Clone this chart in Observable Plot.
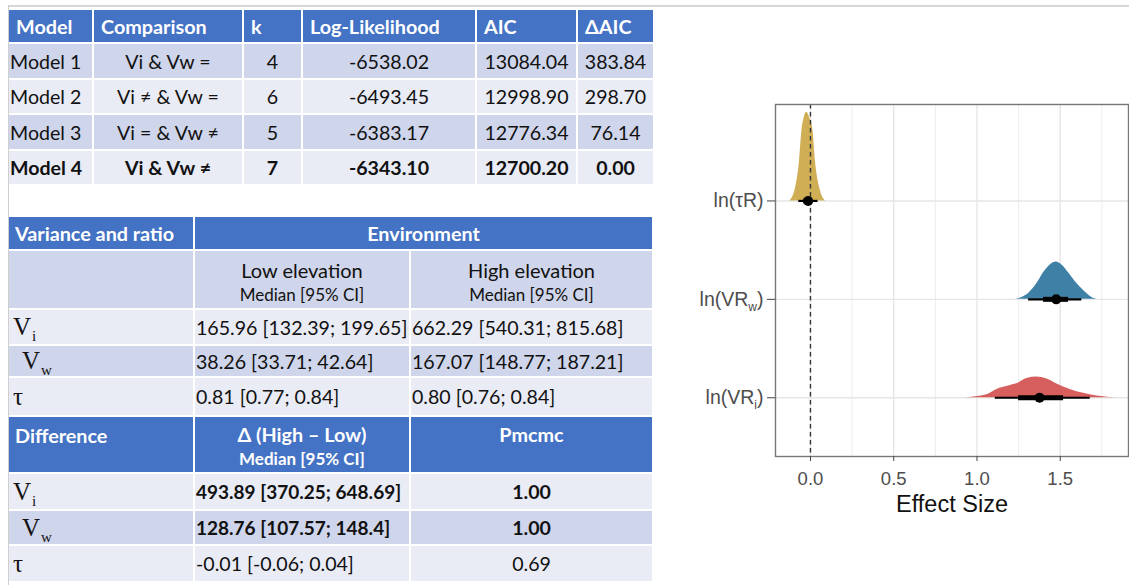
<!DOCTYPE html>
<html><head><meta charset="utf-8">
<script src="https://cdn.jsdelivr.net/npm/d3@7"></script>
<script src="https://cdn.jsdelivr.net/npm/@observablehq/plot@0.6"></script>
<style>
html,body{margin:0;padding:0;background:#fff;}
#page{position:relative;width:1129px;height:587px;overflow:hidden;font-family:Lato,"Open Sans",sans-serif;color:#111;}
.frameTop{position:absolute;left:8px;top:5px;width:1121px;height:1.5px;background:#D6D6D6;}
.frameLeft{position:absolute;left:7.5px;top:5px;width:1px;height:580px;background:#CFCFCF;}
.grid{position:absolute;display:grid;gap:2px;background:#fff;}
.c{display:flex;align-items:center;white-space:nowrap;box-sizing:border-box;}
.h{background:#4472C4;color:#fff;font-weight:bold;}
.dk{background:#CFD5EA;}
.lt{background:#E9EBF5;}
.left{justify-content:flex-start;}
.ctr{justify-content:center;}
.top{align-items:flex-start;flex-direction:column;}
.serif{font-family:"Liberation Serif","DejaVu Serif",serif;font-size:25px;}
.serif .sb{font-size:15px;position:relative;top:6px;margin-left:1px;}
#chart{position:absolute;left:680px;top:90px;}
</style></head>
<body><div id="page">
<div class="frameTop"></div><div class="frameLeft"></div>
<div id="t1" class="grid"></div>
<div id="t2" class="grid"></div>
<div id="chart"></div>
</div>
<script>
// ---------- Table 1 data ----------
const modelHeaders = ["Model","Comparison","k","Log-Likelihood","AIC","ΔAIC"];
const modelNames = ["Model 1","Model 2","Model 3","Model 4"];
const comparisons = ["Vi & Vw =","Vi ≠ & Vw =","Vi = & Vw ≠","Vi & Vw ≠"];
const kValues = ["4","6","5","7"];
const logLik = ["-6538.02","-6493.45","-6383.17","-6343.10"];
const aicValues = ["13084.04","12998.90","12776.34","12700.20"];
const deltaAic = ["383.84","298.70","76.14","0.00"];

// ---------- Table 2/3 data ----------
const paramMain = ["V","V","τ"];
const paramSub = ["i","w",""];
const lowElevation = ["165.96 [132.39; 199.65]","38.26 [33.71; 42.64]","0.81 [0.77; 0.84]"];
const highElevation = ["662.29 [540.31; 815.68]","167.07 [148.77; 187.21]","0.80 [0.76; 0.84]"];
const diffValues = ["493.89 [370.25; 648.69]","128.76 [107.57; 148.4]","-0.01 [-0.06; 0.04]"];
const pmcmcValues = ["1.00","1.00","0.69"];
const diffBold = [true,true,false];

// ---------- Chart data ----------
const yCatMain = ["ln(VR","ln(VR","ln(τR"];
const yCatSub = ["i","w",""];
const yCatPos = [1,2,3];
const slabColors = ["#D65F5E","#3F80A6","#CFAE56"];
const medians = [1.376, 1.476, -0.014];
const thinLo = [1.11, 1.31, -0.07];
const thinHi = [1.68, 1.63, 0.045];
const thickLo = [1.25, 1.40, -0.04];
const thickHi = [1.52, 1.55, 0.012];
const slabX = [
  [0.93,0.98,1.06,1.12,1.19,1.25,1.30,1.36,1.42,1.48,1.56,1.64,1.72,1.78,1.83],
  [1.23,1.27,1.31,1.36,1.40,1.44,1.476,1.51,1.55,1.60,1.66,1.69,1.73],
  [-0.125,-0.114,-0.09,-0.066,-0.05,-0.04,-0.03,-0.024,-0.016,-0.005,0.0138,0.03,0.056,0.08,0.092]
];
const slabH = [
  [0,0.008,0.03,0.085,0.12,0.15,0.195,0.21,0.19,0.14,0.085,0.045,0.017,0.006,0],
  [0,0.02,0.06,0.16,0.27,0.35,0.38,0.35,0.27,0.16,0.06,0.02,0],
  [0,0.02,0.13,0.40,0.735,0.83,0.885,0.90,0.89,0.845,0.735,0.40,0.13,0.02,0]
];
const majorTicks = [0,0.5,1,1.5];
const minorTicks = [0.25,0.75,1.25,1.75];

// ---------- build tables ----------
function cell(parent, cls, html, style){
  const d=document.createElement("div");
  d.className="c "+cls; d.innerHTML=html;
  if(style) Object.assign(d.style, style);
  parent.appendChild(d); return d;
}
const t1=document.getElementById("t1");
Object.assign(t1.style,{left:"9px",top:"10px",gridTemplateColumns:"83px 148px 57px 172px 99px 75px",gridTemplateRows:"32px 34px 33px 34px 33px"});
modelHeaders.forEach(h=>cell(t1,"h left",h,{paddingLeft:"7px",fontSize:"19.8px"}));
modelNames.forEach((m,i)=>{
  const bg = i%2===0?"dk":"lt";
  const fw = i===3?"bold":"normal";
  const st = {fontSize:"19.6px",fontWeight:fw};
  cell(t1,bg+" left",m,Object.assign({paddingLeft:"1px"},st));
  cell(t1,bg+" ctr",comparisons[i],st);
  cell(t1,bg+" ctr",kValues[i],st);
  cell(t1,bg+" ctr",logLik[i],st);
  cell(t1,bg+" ctr",aicValues[i],st);
  cell(t1,bg+" ctr",deltaAic[i],st);
});

const t2=document.getElementById("t2");
Object.assign(t2.style,{left:"9px",top:"217px",gridTemplateColumns:"184px 214px 241px",gridTemplateRows:"32px 57px 34px 30px 37px 55px 35px 33px 35px"});
cell(t2,"h left","Variance and ratio",{paddingLeft:"6px",fontSize:"19.8px"});
cell(t2,"h ctr","Environment",{gridColumn:"span 2",fontSize:"19.8px"});
cell(t2,"dk","",{});
const sub1 = '<div style="font-size:20px;line-height:26px">Low elevation</div><div style="font-size:17px;line-height:24px">Median [95% CI]</div>';
const sub2 = '<div style="font-size:20px;line-height:26px">High elevation</div><div style="font-size:17px;line-height:24px">Median [95% CI]</div>';
cell(t2,"dk top",sub1,{paddingTop:"6px",alignItems:"center"});
cell(t2,"dk top",sub2,{paddingTop:"6px",alignItems:"center"});
function paramLabel(i){ return "<span>"+paramMain[i] + (paramSub[i]?'<span class="sb">'+paramSub[i]+"</span>":"")+"</span>"; }
const padL=["4px","13px","4px"];
[0,1,2].forEach(i=>{
  const bg = i===1?"dk":"lt";
  cell(t2,bg+" left serif",paramLabel(i),{paddingLeft:padL[i]});
  cell(t2,bg+" left",lowElevation[i],{fontSize:"19.6px",paddingLeft:"1px"});
  cell(t2,bg+" left",highElevation[i],{fontSize:"19.6px",paddingLeft:"1px"});
});
cell(t2,"h top","Difference",{paddingLeft:"6px",paddingTop:"5px",fontSize:"19.8px",lineHeight:"26px"});
cell(t2,"h top",'<div style="font-size:19.8px;line-height:26px">Δ (High – Low)</div><div style="font-size:17px;line-height:24px">Median [95% CI]</div>',{paddingTop:"4px",alignItems:"center"});
cell(t2,"h top","Pmcmc",{paddingTop:"4px",alignItems:"center",fontSize:"19.8px",lineHeight:"26px"});
[0,1,2].forEach(i=>{
  const bg = i===1?"dk":"lt";
  const fw = diffBold[i]?"bold":"normal";
  cell(t2,bg+" left serif",paramLabel(i),{paddingLeft:padL[i]});
  cell(t2,bg+" left",diffValues[i],{fontSize:diffBold[i]?"19px":"19.6px",paddingLeft:"1px",fontWeight:fw});
  cell(t2,bg+" ctr",pmcmcValues[i],{fontSize:"19.6px",fontWeight:fw});
});

// ---------- chart ----------
const slabMarks = slabX.map((xs,i)=>{
  const rows = xs.map((x,j)=>({x, y1: yCatPos[i], y2: yCatPos[i]+slabH[i][j]}));
  return Plot.areaY(rows,{x:"x",y1:"y1",y2:"y2",fill:slabColors[i],curve:"monotone-x"});
});
const idx = d3.range(yCatPos.length);
const fmtY = v => { const i = yCatPos.indexOf(v); return yCatMain[i]+yCatSub[i]+")"; };
const chart = Plot.plot({
  width:449, height:440,
  marginLeft:95, marginRight:1, marginTop:14, marginBottom:74,
  x:{domain:[-0.21,1.91]},
  y:{domain:[0.403,3.98]},
  style:{fontFamily:"'Liberation Sans', Arial, sans-serif",fontSize:"18px",color:"#4D4D4D",background:"transparent",overflow:"visible"},
  marks:[
    Plot.ruleX(minorTicks,{stroke:"#EBEBEB",strokeWidth:0.9}),
    Plot.ruleX(majorTicks,{stroke:"#E6E6E6",strokeWidth:1.4}),
    Plot.ruleY(yCatPos,{stroke:"#E6E6E6",strokeWidth:1.4}),
    ...slabMarks,
    Plot.ruleX([0],{stroke:"#333",strokeWidth:1.4,strokeDasharray:"4.5,3.5"}),
    Plot.ruleY(idx,{y:i=>yCatPos[i],x1:i=>thinLo[i],x2:i=>thinHi[i],stroke:"#000",strokeWidth:2.2}),
    Plot.ruleY(idx,{y:i=>yCatPos[i],x1:i=>thickLo[i],x2:i=>thickHi[i],stroke:"#000",strokeWidth:5}),
    Plot.dot(idx,{x:i=>medians[i],y:i=>yCatPos[i],r:5,fill:"#000"}),
    Plot.frame({stroke:"#777",strokeWidth:1.4}),
    Plot.axisX({ticks:majorTicks,tickFormat:d3.format(".1f"),tickSize:5,tickPadding:10,label:null,fontSize:18.5,stroke:"#444"}),
    Plot.axisY({ticks:yCatPos,tickFormat:fmtY,tickSize:8,tickPadding:4,label:null,fontSize:19.5,stroke:"#444"}),
    Plot.text(["Effect Size"],{frameAnchor:"bottom",dy:48,fontSize:23.5,fill:"#111",lineAnchor:"middle"})
  ]
});
document.getElementById("chart").appendChild(chart);
// subscripts for y tick labels
const NS="http://www.w3.org/2000/svg";
chart.querySelectorAll('g[aria-label="y-axis tick label"] text').forEach(t=>{
  const s=t.textContent;
  const i = yCatPos.findIndex(v=>fmtY(v)===s);
  if(i<0 || !yCatSub[i]) return;
  t.textContent="";
  const a=document.createElementNS(NS,"tspan"); a.textContent=yCatMain[i]; t.appendChild(a);
  const b=document.createElementNS(NS,"tspan"); b.textContent=yCatSub[i]; b.setAttribute("dy","5"); b.setAttribute("font-size","12"); t.appendChild(b);
  const c=document.createElementNS(NS,"tspan"); c.textContent=")"; c.setAttribute("dy","-5"); t.appendChild(c);
});
</script>
</body></html>
